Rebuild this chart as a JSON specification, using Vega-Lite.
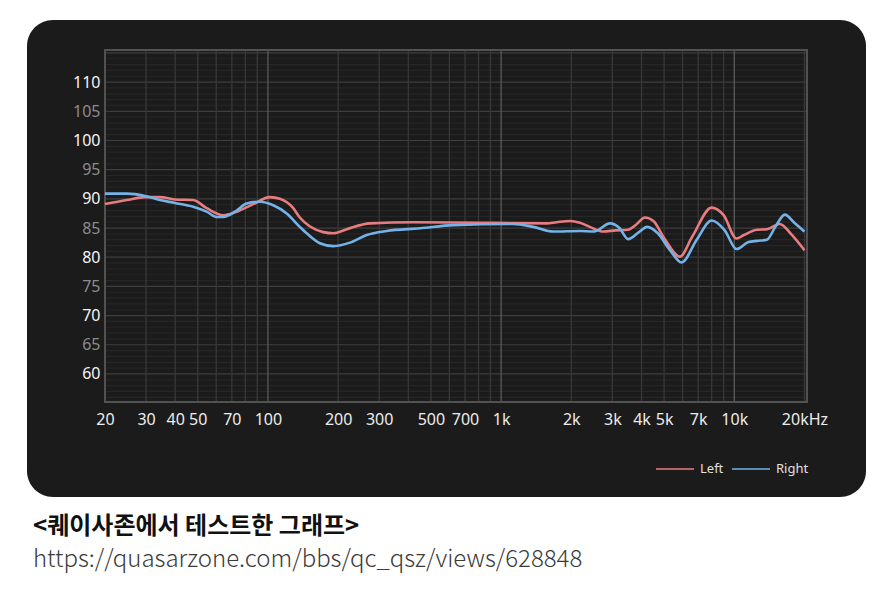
{
  "$schema": "https://vega.github.io/schema/vega-lite/v6.json",
  "width": 839,
  "height": 477,
  "padding": {"left": 27, "top": 20, "right": 20, "bottom": 5},
  "background": "white",
  "title": {
    "text": "<퀘이사존에서 테스트한 그래프>",
    "subtitle": "https://quasarzone.com/bbs/qc_qsz/views/628848",
    "orient": "bottom",
    "anchor": "start",
    "frame": "group",
    "dx": 6,
    "offset": 18,
    "font": "Noto Sans CJK KR",
    "fontSize": 24,
    "fontWeight": "bold",
    "color": "#111111",
    "subtitleFont": "Noto Sans CJK KR",
    "subtitleFontSize": 24,
    "subtitleFontWeight": 300,
    "subtitleColor": "#3a3a3a",
    "subtitlePadding": 9
  },
  "config": {
    "view": {"fill": "#1b1b1b", "cornerRadius": 26, "stroke": null}
  },
  "datasets": {
    "hgrid": [
      {"v": 56, "major": false}, {"v": 57, "major": false}, {"v": 58, "major": false}, {"v": 59, "major": false}, {"v": 60, "major": true},
      {"v": 61, "major": false}, {"v": 62, "major": false}, {"v": 63, "major": false}, {"v": 64, "major": false}, {"v": 65, "major": true},
      {"v": 66, "major": false}, {"v": 67, "major": false}, {"v": 68, "major": false}, {"v": 69, "major": false}, {"v": 70, "major": true},
      {"v": 71, "major": false}, {"v": 72, "major": false}, {"v": 73, "major": false}, {"v": 74, "major": false}, {"v": 75, "major": true},
      {"v": 76, "major": false}, {"v": 77, "major": false}, {"v": 78, "major": false}, {"v": 79, "major": false}, {"v": 80, "major": true},
      {"v": 81, "major": false}, {"v": 82, "major": false}, {"v": 83, "major": false}, {"v": 84, "major": false}, {"v": 85, "major": true},
      {"v": 86, "major": false}, {"v": 87, "major": false}, {"v": 88, "major": false}, {"v": 89, "major": false}, {"v": 90, "major": true},
      {"v": 91, "major": false}, {"v": 92, "major": false}, {"v": 93, "major": false}, {"v": 94, "major": false}, {"v": 95, "major": true},
      {"v": 96, "major": false}, {"v": 97, "major": false}, {"v": 98, "major": false}, {"v": 99, "major": false}, {"v": 100, "major": true},
      {"v": 101, "major": false}, {"v": 102, "major": false}, {"v": 103, "major": false}, {"v": 104, "major": false}, {"v": 105, "major": true},
      {"v": 106, "major": false}, {"v": 107, "major": false}, {"v": 108, "major": false}, {"v": 109, "major": false}, {"v": 110, "major": true},
      {"v": 111, "major": false}, {"v": 112, "major": false}, {"v": 113, "major": false}, {"v": 114, "major": false}, {"v": 115, "major": true}
    ],
    "vgrid": [
      {"f": 30, "major": false}, {"f": 40, "major": false}, {"f": 50, "major": false}, {"f": 60, "major": false}, {"f": 70, "major": false}, {"f": 80, "major": false}, {"f": 90, "major": false},
      {"f": 100, "major": true},
      {"f": 200, "major": false}, {"f": 300, "major": false}, {"f": 400, "major": false}, {"f": 500, "major": false}, {"f": 600, "major": false}, {"f": 700, "major": false}, {"f": 800, "major": false}, {"f": 900, "major": false},
      {"f": 1000, "major": true},
      {"f": 2000, "major": false}, {"f": 3000, "major": false}, {"f": 4000, "major": false}, {"f": 5000, "major": false}, {"f": 6000, "major": false}, {"f": 7000, "major": false}, {"f": 8000, "major": false}, {"f": 9000, "major": false},
      {"f": 10000, "major": true},
      {"f": 20000, "major": false}
    ],
    "fr": [
      {"ch": "Left", "f": 20, "v": 89.1},
      {"ch": "Left", "f": 24.8, "v": 89.8},
      {"ch": "Left", "f": 29.7, "v": 90.3},
      {"ch": "Left", "f": 34.4, "v": 90.3},
      {"ch": "Left", "f": 39.9, "v": 89.9},
      {"ch": "Left", "f": 47.8, "v": 89.8},
      {"ch": "Left", "f": 54.6, "v": 88.4},
      {"ch": "Left", "f": 64.3, "v": 87.2},
      {"ch": "Left", "f": 73.4, "v": 87.8},
      {"ch": "Left", "f": 86.5, "v": 89.1},
      {"ch": "Left", "f": 102, "v": 90.3},
      {"ch": "Left", "f": 112.6, "v": 90.0},
      {"ch": "Left", "f": 128.4, "v": 88.4},
      {"ch": "Left", "f": 137, "v": 86.8},
      {"ch": "Left", "f": 151, "v": 85.3},
      {"ch": "Left", "f": 172.7, "v": 84.3},
      {"ch": "Left", "f": 190.6, "v": 84.1},
      {"ch": "Left", "f": 217.6, "v": 84.8},
      {"ch": "Left", "f": 273.8, "v": 85.8},
      {"ch": "Left", "f": 420, "v": 86.0},
      {"ch": "Left", "f": 811, "v": 85.9},
      {"ch": "Left", "f": 1567, "v": 85.8},
      {"ch": "Left", "f": 1730, "v": 86.0},
      {"ch": "Left", "f": 1972, "v": 86.2},
      {"ch": "Left", "f": 2178, "v": 85.9},
      {"ch": "Left", "f": 2400, "v": 85.2},
      {"ch": "Left", "f": 2740, "v": 84.4},
      {"ch": "Left", "f": 3100, "v": 84.6},
      {"ch": "Left", "f": 3500, "v": 84.7},
      {"ch": "Left", "f": 3800, "v": 85.6},
      {"ch": "Left", "f": 4136, "v": 86.8},
      {"ch": "Left", "f": 4500, "v": 86.2},
      {"ch": "Left", "f": 5000, "v": 83.3},
      {"ch": "Left", "f": 5844, "v": 80.1},
      {"ch": "Left", "f": 6600, "v": 83.5},
      {"ch": "Left", "f": 7992, "v": 88.5},
      {"ch": "Left", "f": 9000, "v": 87.2},
      {"ch": "Left", "f": 10228, "v": 83.2},
      {"ch": "Left", "f": 11000, "v": 83.8},
      {"ch": "Left", "f": 12504, "v": 84.7},
      {"ch": "Left", "f": 13800, "v": 84.8},
      {"ch": "Left", "f": 15688, "v": 85.7},
      {"ch": "Left", "f": 17500, "v": 84.0},
      {"ch": "Left", "f": 20000, "v": 81.2},
      {"ch": "Right", "f": 20, "v": 90.9},
      {"ch": "Right", "f": 24.8, "v": 90.9},
      {"ch": "Right", "f": 29.7, "v": 90.5},
      {"ch": "Right", "f": 34.4, "v": 89.8},
      {"ch": "Right", "f": 39.9, "v": 89.3},
      {"ch": "Right", "f": 47.8, "v": 88.65},
      {"ch": "Right", "f": 54.6, "v": 87.8},
      {"ch": "Right", "f": 60.3, "v": 86.9},
      {"ch": "Right", "f": 64.3, "v": 86.9},
      {"ch": "Right", "f": 73.4, "v": 88.0},
      {"ch": "Right", "f": 81, "v": 89.2},
      {"ch": "Right", "f": 92.4, "v": 89.5},
      {"ch": "Right", "f": 105.4, "v": 88.9},
      {"ch": "Right", "f": 120.3, "v": 87.5},
      {"ch": "Right", "f": 137, "v": 85.2},
      {"ch": "Right", "f": 146.6, "v": 84.1},
      {"ch": "Right", "f": 167, "v": 82.4},
      {"ch": "Right", "f": 190.6, "v": 81.9},
      {"ch": "Right", "f": 224.7, "v": 82.5},
      {"ch": "Right", "f": 265, "v": 83.8},
      {"ch": "Right", "f": 322.8, "v": 84.5},
      {"ch": "Right", "f": 448.6, "v": 84.95},
      {"ch": "Right", "f": 623, "v": 85.5},
      {"ch": "Right", "f": 1127, "v": 85.7},
      {"ch": "Right", "f": 1373, "v": 85.2},
      {"ch": "Right", "f": 1673, "v": 84.4},
      {"ch": "Right", "f": 2178, "v": 84.5},
      {"ch": "Right", "f": 2500, "v": 84.4},
      {"ch": "Right", "f": 2929, "v": 85.8},
      {"ch": "Right", "f": 3200, "v": 85.1},
      {"ch": "Right", "f": 3508, "v": 83.1},
      {"ch": "Right", "f": 3900, "v": 84.3},
      {"ch": "Right", "f": 4232, "v": 85.2},
      {"ch": "Right", "f": 4700, "v": 84.1},
      {"ch": "Right", "f": 5300, "v": 81.2},
      {"ch": "Right", "f": 5944, "v": 79.1},
      {"ch": "Right", "f": 6900, "v": 83.0},
      {"ch": "Right", "f": 7992, "v": 86.3},
      {"ch": "Right", "f": 9100, "v": 84.6},
      {"ch": "Right", "f": 10228, "v": 81.4},
      {"ch": "Right", "f": 11500, "v": 82.6},
      {"ch": "Right", "f": 12504, "v": 82.8},
      {"ch": "Right", "f": 13800, "v": 83.0},
      {"ch": "Right", "f": 15000, "v": 85.2},
      {"ch": "Right", "f": 16480, "v": 87.3},
      {"ch": "Right", "f": 18000, "v": 86.0},
      {"ch": "Right", "f": 20000, "v": 84.4}
    ]
  },
  "layer": [
    {
      "data": {"name": "hgrid"},
      "mark": {"type": "rule", "strokeWidth": 1.2},
      "encoding": {
        "y": {"field": "v", "type": "quantitative", "scale": {"domain": [38.92, 120.64], "zero": false, "nice": false}},
        "x": {"datum": 20, "type": "quantitative", "scale": {"type": "log", "domain": [9.26, 36720], "nice": false}},
        "x2": {"datum": 20500},
        "color": {"condition": {"test": "datum.major", "value": "#3e3e3e"}, "value": "#262626"}
      }
    },
    {
      "data": {"name": "vgrid"},
      "mark": {"type": "rule", "strokeWidth": 1.3},
      "encoding": {
        "x": {"field": "f", "type": "quantitative", "scale": {"type": "log", "domain": [9.26, 36720], "nice": false}},
        "y": {"datum": 55.2, "type": "quantitative", "scale": {"domain": [38.92, 120.64], "zero": false, "nice": false}},
        "y2": {"datum": 115.5},
        "color": {"condition": {"test": "datum.major", "value": "#5a5a5a"}, "value": "#383838"}
      }
    },
    {
      "data": {"values": [{"k": "frame"}]},
      "mark": {"type": "rect", "filled": false, "stroke": "#525252", "strokeWidth": 2},
      "encoding": {
        "x": {"datum": 20, "type": "quantitative", "scale": {"type": "log", "domain": [9.26, 36720], "nice": false}},
        "x2": {"datum": 20500},
        "y": {"datum": 55.2, "type": "quantitative", "scale": {"domain": [38.92, 120.64], "zero": false, "nice": false}},
        "y2": {"datum": 115.5}
      }
    },
    {
      "data": {"name": "fr"},
      "mark": {"type": "line", "strokeWidth": 2.6, "interpolate": "monotone"},
      "encoding": {
        "x": {
          "field": "f", "type": "quantitative",
          "scale": {"type": "log", "domain": [9.26, 36720], "nice": false},
          "axis": {
            "title": null, "orient": "bottom", "offset": -95, "zindex": 2,
            "values": [20, 30, 40, 50, 70, 100, 200, 300, 500, 700, 1000, 2000, 3000, 4000, 5000, 7000, 10000, 20000],
            "labelExpr": "datum.value >= 1000 ? (datum.value / 1000) + 'k' + (datum.value == 20000 ? 'Hz' : '') : '' + datum.value",
            "grid": false, "ticks": false, "domain": false,
            "labelColor": "#ececec", "labelFontSize": 16, "labelFont": "Noto Sans",
            "labelPadding": 9, "labelOverlap": false, "labelFlush": false
          }
        },
        "y": {
          "field": "v", "type": "quantitative",
          "scale": {"domain": [38.92, 120.64], "zero": false, "nice": false},
          "axis": {
            "title": null, "orient": "left", "offset": -78, "zindex": 2,
            "values": [60, 65, 70, 75, 80, 85, 90, 95, 100, 105, 110],
            "grid": false, "ticks": false, "domain": false,
            "labelColor": {"condition": {"test": "datum.value % 10 == 0", "value": "#f4f4f4"}, "value": "#8c8c8c"},
            "labelFontSize": 16, "labelFont": "Noto Sans", "labelPadding": 5
          }
        },
        "color": {
          "field": "ch", "type": "nominal",
          "scale": {"domain": ["Left", "Right"], "range": ["#e97c7e", "#73b3ea"]},
          "legend": {
            "title": null, "orient": "none", "direction": "horizontal",
            "legendX": 628, "legendY": 429,
            "symbolType": "stroke", "symbolSize": 1444, "symbolStrokeWidth": 2, "symbolOpacity": 0.75,
            "labelColor": "#e0e0e0", "labelFontSize": 13, "labelFont": "Noto Sans",
            "labelOffset": 5, "columnPadding": 4, "padding": 0
          }
        }
      }
    }
  ]
}
